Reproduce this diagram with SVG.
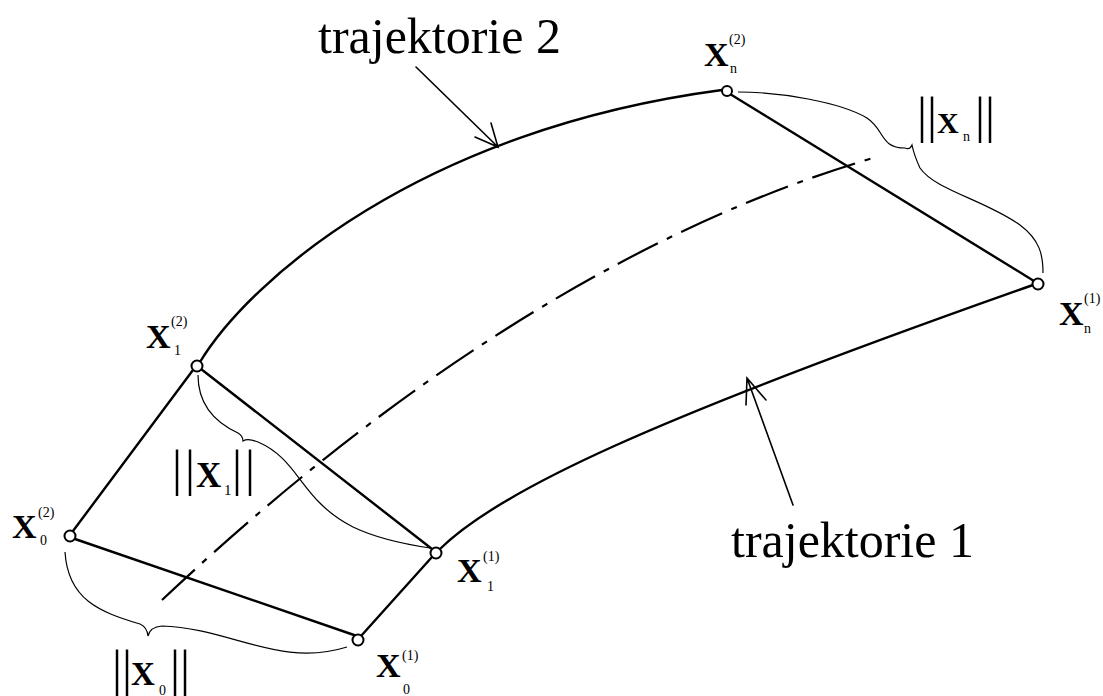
<svg xmlns="http://www.w3.org/2000/svg" width="1103" height="696" viewBox="0 0 1103 696">
<style>
.ln{fill:none;stroke:#000;stroke-width:2.4;stroke-linecap:round}
.thin{fill:none;stroke:#000;stroke-width:1.6;stroke-linecap:round}
.br{fill:none;stroke:#000;stroke-width:1.2}
.dd{fill:none;stroke:#000;stroke-width:2.2;stroke-dasharray:45 10 6 10}
.pt{fill:#fff;stroke:#000;stroke-width:2}
.t{font-family:"Liberation Serif","Times New Roman",serif;fill:#000}
.X{font-weight:bold}
</style>
<rect width="1103" height="696" fill="#fff"/>
<g id="connectors">
<path class="ln" d="M73,531 L193,370"/>
<path class="ln" d="M200,362 C250,280 420,130 722,90"/>
<path class="ln" d="M201,369 L432,549"/>
<path class="ln" d="M75,539 L354,635"/>
<path class="ln" d="M730,94 L1034,281"/>
<path class="ln" d="M361,636 L432,557"/>
<path class="ln" d="M440,549 C500,490 650,420 1033,285"/>
<path class="dd" d="M162,600 C300,470 560,250 873,158"/>
<path class="thin" d="M416,67 L498,147 M491,123 L498,147 L475,137"/>
<path class="thin" d="M793,505 L747,378 M746,405 L747,378 L766,400"/>
</g>
<g id="braces">
<path class="br" d="M65,552 C68,600 100,612 140,624 Q147,627 148,636 Q150,627 162,626 C230,628 280,668 347,647"/>
<path class="br" d="M198,375 C198,400 210,420 238,433 Q243,436 243,441 Q248,438 258,442 C300,460 300,500 353,527 C380,540 410,545 430,548"/>
<path class="br" d="M738,92 C780,92 840,102 867,118 C885,130 880,148 905,148 Q910,150 912,145 Q914,155 920,168 C935,190 985,200 1020,225 C1040,240 1043,255 1043,273"/>
</g>
<g id="label-traj2"><text class="t" x="318" y="53" font-size="50">trajektorie 2</text></g>
<g id="label-traj1"><text class="t" x="731" y="557" font-size="50">trajektorie 1</text></g>
<g id="x0-2">
<circle class="pt" cx="70" cy="536" r="5.5"/>
<text class="t X" x="12" y="538" font-size="34">X</text>
<text class="t" x="38" y="517" font-size="14">(2)</text>
<text class="t" x="40" y="545" font-size="14">0</text>
</g>
<g id="x1-2">
<circle class="pt" cx="197" cy="366" r="5.5"/>
<text class="t X" x="146" y="348" font-size="34">X</text>
<text class="t" x="171" y="326" font-size="14">(2)</text>
<text class="t" x="174" y="355" font-size="14">1</text>
</g>
<g id="xn-2">
<circle class="pt" cx="727" cy="91" r="5"/>
<text class="t X" x="704" y="66" font-size="34">X</text>
<text class="t" x="729" y="44" font-size="14">(2)</text>
<text class="t" x="730" y="73" font-size="14">n</text>
</g>
<g id="xn-1">
<circle class="pt" cx="1038" cy="284" r="5.5"/>
<text class="t X" x="1059" y="325" font-size="34">X</text>
<text class="t" x="1084" y="303" font-size="14">(1)</text>
<text class="t" x="1084" y="333" font-size="14">n</text>
</g>
<g id="x1-1">
<circle class="pt" cx="436" cy="553" r="5.5"/>
<text class="t X" x="457" y="582" font-size="34">X</text>
<text class="t" x="483" y="561" font-size="14">(1)</text>
<text class="t" x="487" y="591" font-size="14">1</text>
</g>
<g id="x0-1">
<circle class="pt" cx="358" cy="640" r="5.5"/>
<text class="t X" x="376" y="677" font-size="34">X</text>
<text class="t" x="402" y="660" font-size="14">(1)</text>
<text class="t" x="403" y="694" font-size="14">0</text>
</g>
<g id="norm-xn">
<text class="t" x="917" y="132" font-size="50">||</text>
<text class="t X" x="937" y="133" font-size="30">X</text>
<text class="t" x="963" y="141" font-size="14">n</text>
<text class="t" x="975" y="132" font-size="50">||</text>
</g>
<g id="norm-x1">
<text class="t" x="172" y="485" font-size="50" letter-spacing="3">||</text>
<text class="t X" x="196" y="487" font-size="35">X</text>
<text class="t" x="224" y="495" font-size="15">1</text>
<text class="t" x="232" y="485" font-size="50" letter-spacing="3">||</text>
</g>
<g id="norm-x0">
<text class="t" x="112" y="685" font-size="50">||</text>
<text class="t X" x="131" y="685" font-size="33">X</text>
<text class="t" x="159" y="695" font-size="14">0</text>
<text class="t" x="170" y="685" font-size="50">||</text>
</g>
</svg>
